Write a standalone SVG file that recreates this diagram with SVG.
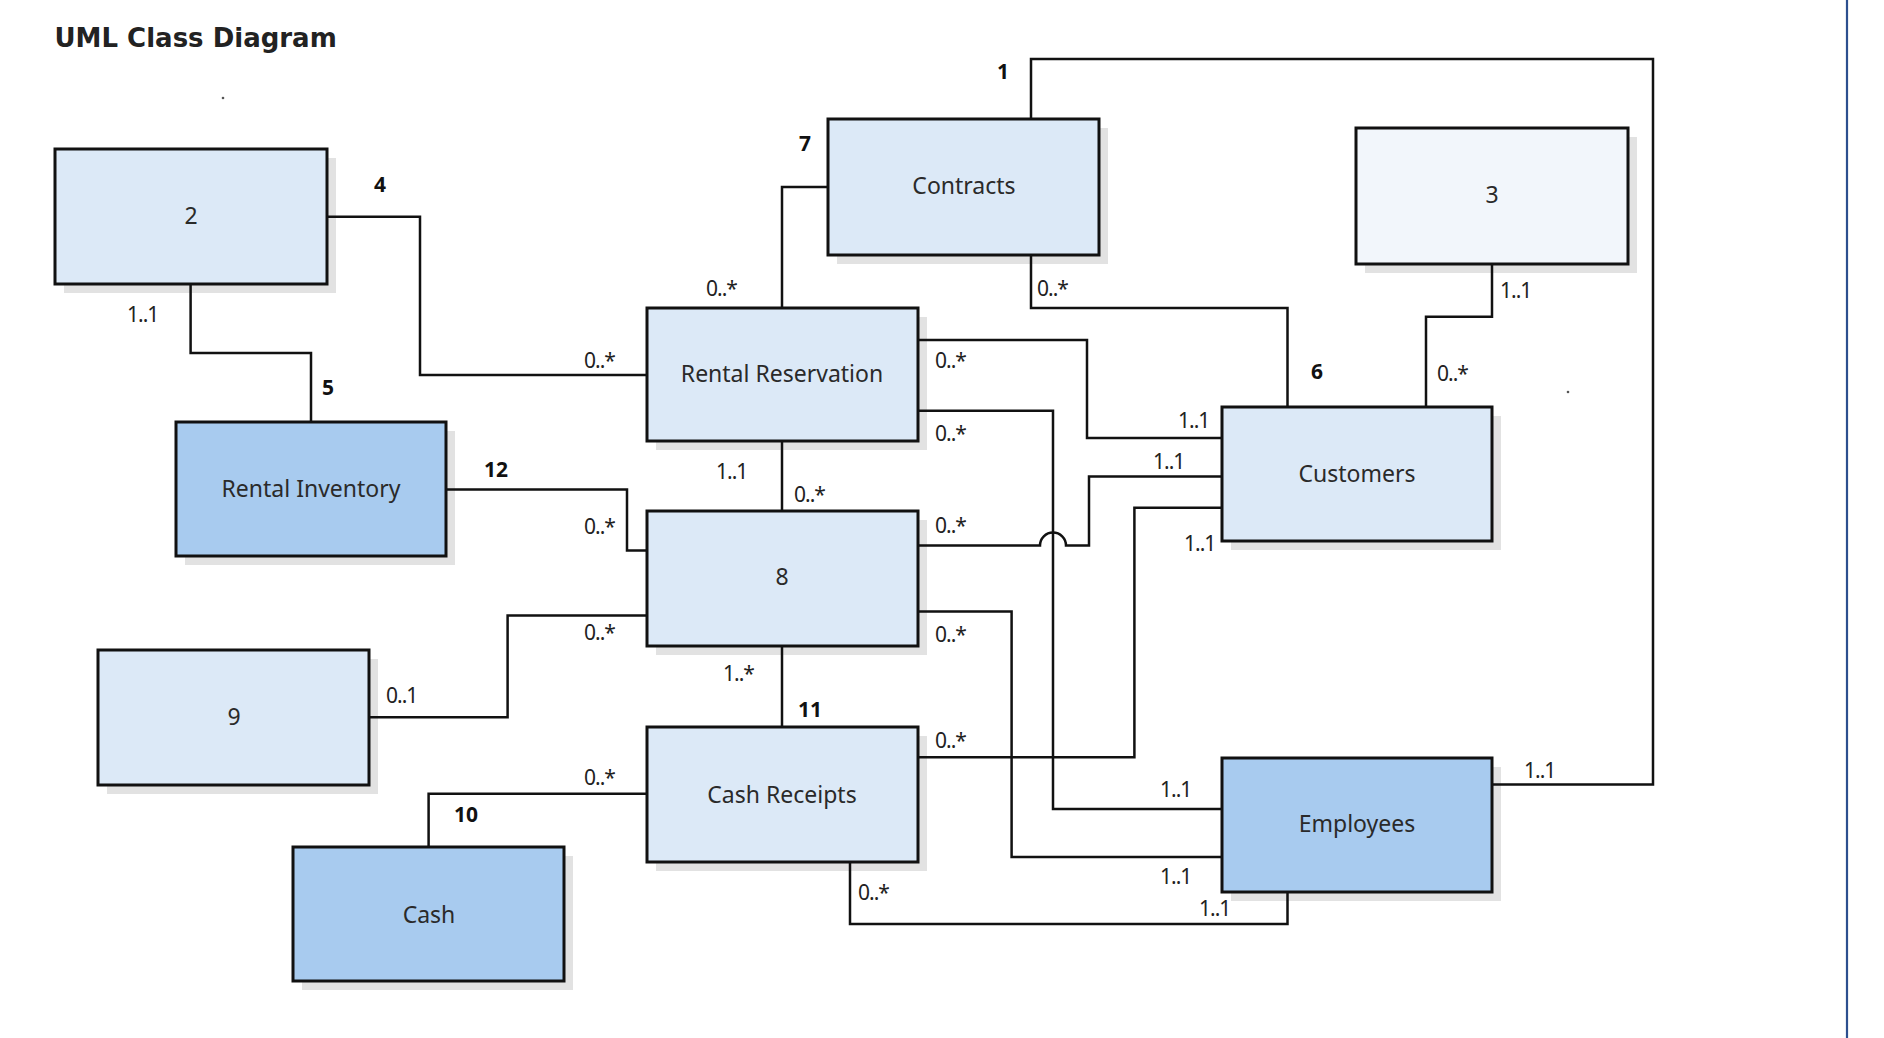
<svg xmlns="http://www.w3.org/2000/svg" width="1884" height="1038" viewBox="0 0 1884 1038">
<defs>
<style>
.shadow{fill:#e2e2e2}
.box{stroke:#111;stroke-width:3}
.light{fill:#dce9f7}
.dark{fill:#a8cbef}
.pale{fill:#f2f6fb}
.name{font-family:"Noto Sans","Liberation Sans",sans-serif;font-size:23px;fill:#2a2a2a;text-anchor:middle}
.mult{font-family:"Noto Sans","Liberation Sans",sans-serif;font-size:21px;fill:#222;letter-spacing:-1px}
.num{font-family:"Noto Sans","Liberation Sans",sans-serif;font-size:21px;font-weight:bold;fill:#111}
.conn{fill:none;stroke:#111;stroke-width:2.5}
</style>
</defs>
<rect width="1884" height="1038" fill="#fff"/>
<text x="54.5" y="46.7" font-family="DejaVu Sans, sans-serif" font-size="26" font-weight="bold" fill="#222">UML Class Diagram</text>
<circle cx="223" cy="98" r="1.3" fill="#555"/>
<circle cx="1568" cy="392" r="1.3" fill="#555"/>
<line x1="1847" y1="0" x2="1847" y2="1038" stroke="#2c4f8f" stroke-width="2.2"/>

<g id="node-2">
<rect class="shadow" x="64" y="158" width="272" height="135"/>
<rect class="box light" x="55" y="149" width="272" height="135"/>
<text class="name" x="191" y="224">2</text>
</g>
<g id="node-contracts">
<rect class="shadow" x="837" y="128" width="271" height="136"/>
<rect class="box light" x="828" y="119" width="271" height="136"/>
<text class="name" x="964" y="194">Contracts</text>
</g>
<g id="node-3">
<rect class="shadow" x="1365" y="137" width="272" height="136"/>
<rect class="box pale" x="1356" y="128" width="272" height="136"/>
<text class="name" x="1492" y="203">3</text>
</g>
<g id="node-rental-reservation">
<rect class="shadow" x="656" y="317" width="271" height="133"/>
<rect class="box light" x="647" y="308" width="271" height="133"/>
<text class="name" x="782" y="382">Rental Reservation</text>
</g>
<g id="node-rental-inventory">
<rect class="shadow" x="185" y="431" width="270" height="134"/>
<rect class="box dark" x="176" y="422" width="270" height="134"/>
<text class="name" x="311" y="497">Rental Inventory</text>
</g>
<g id="node-customers">
<rect class="shadow" x="1231" y="416" width="270" height="134"/>
<rect class="box light" x="1222" y="407" width="270" height="134"/>
<text class="name" x="1357" y="482">Customers</text>
</g>
<g id="node-8">
<rect class="shadow" x="656" y="520" width="271" height="135"/>
<rect class="box light" x="647" y="511" width="271" height="135"/>
<text class="name" x="782" y="585">8</text>
</g>
<g id="node-9">
<rect class="shadow" x="107" y="659" width="271" height="135"/>
<rect class="box light" x="98" y="650" width="271" height="135"/>
<text class="name" x="234" y="725">9</text>
</g>
<g id="node-cash-receipts">
<rect class="shadow" x="656" y="736" width="271" height="135"/>
<rect class="box light" x="647" y="727" width="271" height="135"/>
<text class="name" x="782" y="803">Cash Receipts</text>
</g>
<g id="node-employees">
<rect class="shadow" x="1231" y="767" width="270" height="134"/>
<rect class="box dark" x="1222" y="758" width="270" height="134"/>
<text class="name" x="1357" y="832">Employees</text>
</g>
<g id="node-cash">
<rect class="shadow" x="302" y="856" width="271" height="134"/>
<rect class="box dark" x="293" y="847" width="271" height="134"/>
<text class="name" x="429" y="923">Cash</text>
</g>

<g id="connectors">
<path class="conn" d="M1031 119 V59 H1653 V784.5 H1493"/>
<path class="conn" d="M828 187 H782 V308"/>
<path class="conn" d="M327 216.7 H420 V375 H647"/>
<path class="conn" d="M190.6 284 V353 H311 V422"/>
<path class="conn" d="M1031 255 V308 H1287.5 V406.7"/>
<path class="conn" d="M1492 264 V316.7 H1426 V406.7"/>
<path class="conn" d="M918 340 H1087 V438 H1222"/>
<path class="conn" d="M918 410.7 H1053 V809 H1222"/>
<path class="conn" d="M782 441.5 V510.7"/>
<path class="conn" d="M446 489.5 H627 V550.5 H647"/>
<path class="conn" d="M918 545.6 H1040 A13 13 0 0 1 1066 545.6 H1089 V476.5 H1222"/>
<path class="conn" d="M647 615.6 H507.6 V717.3 H369.6"/>
<path class="conn" d="M918 611.6 H1011.6 V857 H1222"/>
<path class="conn" d="M782 646 V726.7"/>
<path class="conn" d="M918 757.2 H1134.4 V507.8 H1222"/>
<path class="conn" d="M647 793.8 H428.6 V847.5"/>
<path class="conn" d="M850 862 V924 H1287.5 V892"/>
</g>

<g id="labels">
<text class="num" x="997" y="79">1</text>
<text class="num" x="374" y="192">4</text>
<text class="num" x="322" y="395">5</text>
<text class="num" x="1311" y="379">6</text>
<text class="num" x="799" y="151">7</text>
<text class="num" x="454" y="822">10</text>
<text class="num" x="798" y="716.5">11</text>
<text class="num" x="484" y="476.5">12</text>

<text class="mult" x="127" y="322">1..1</text>
<text class="mult" x="584" y="368">0..*</text>
<text class="mult" x="706" y="296">0..*</text>
<text class="mult" x="1037" y="296">0..*</text>
<text class="mult" x="1500" y="298">1..1</text>
<text class="mult" x="1437" y="381">0..*</text>
<text class="mult" x="935" y="368">0..*</text>
<text class="mult" x="935" y="441">0..*</text>
<text class="mult" x="1178" y="428">1..1</text>
<text class="mult" x="716" y="479">1..1</text>
<text class="mult" x="794" y="502">0..*</text>
<text class="mult" x="935" y="533">0..*</text>
<text class="mult" x="1153" y="469">1..1</text>
<text class="mult" x="1184" y="551">1..1</text>
<text class="mult" x="584" y="534">0..*</text>
<text class="mult" x="584" y="640">0..*</text>
<text class="mult" x="935" y="642">0..*</text>
<text class="mult" x="386" y="703">0..1</text>
<text class="mult" x="723" y="681">1..*</text>
<text class="mult" x="935" y="748">0..*</text>
<text class="mult" x="584" y="784.5">0..*</text>
<text class="mult" x="1524" y="777.5">1..1</text>
<text class="mult" x="1160" y="797">1..1</text>
<text class="mult" x="1160" y="884">1..1</text>
<text class="mult" x="858" y="900">0..*</text>
<text class="mult" x="1199" y="916">1..1</text>
</g>
</svg>
